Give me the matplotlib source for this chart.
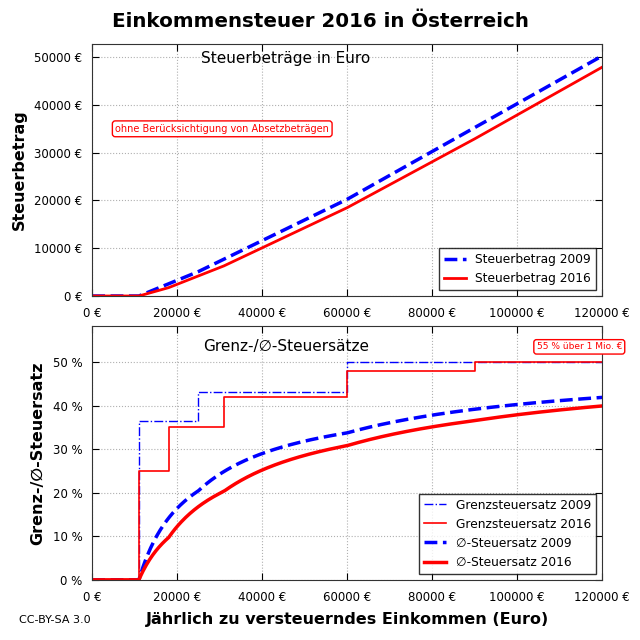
import numpy as np
import matplotlib.pyplot as plt
from matplotlib.ticker import FuncFormatter

plt.rc('font', family='DejaVu Sans', size=8.5)

# tax amount at the bracket limits (Euro)
inc_2009 = [0, 11000, 25000, 60000, 120000]
tax_2009 = [0, 0, 5110, 20235, 50235]
inc_2016 = [0, 11000, 18000, 31000, 60000, 90000, 120000]
tax_2016 = [0, 0, 1750, 6300, 18480, 32880, 47880]

# marginal rates (%) starting at each limit
rate_2009 = [0, 36.5, 43.2143, 50, 50]
rate_2016 = [0, 25, 35, 42, 48, 50, 50]

# average rate = tax / income
x = np.arange(0, 120001, 250)
avg_2009 = np.where(x > 0, np.interp(x, inc_2009, tax_2009) / np.maximum(x, 1) * 100, 0)
avg_2016 = np.where(x > 0, np.interp(x, inc_2016, tax_2016) / np.maximum(x, 1) * 100, 0)

fig = plt.figure(figsize=(6.4, 6.4), dpi=100)
ax1 = fig.add_axes([0.144, 0.5375, 0.797, 0.394])
ax2 = fig.add_axes([0.144, 0.094, 0.797, 0.397])

fig.text(0.5, 0.967, 'Einkommensteuer 2016 in Österreich', ha='center', va='center',
         fontsize=14.3, fontweight='bold')

ax1.plot(inc_2009, tax_2009, 'b--', lw=2.5, label='Steuerbetrag 2009')
ax1.plot(inc_2016, tax_2016, 'r-', lw=2, label='Steuerbetrag 2016')
ax1.set_xlim(0, 120000)
ax1.set_ylim(0, 52750)
ax1.set_ylabel('Steuerbetrag', fontsize=11.5, fontweight='bold', labelpad=5)
ax1.text(0.38, 0.94, 'Steuerbeträge in Euro', transform=ax1.transAxes, ha='center', va='center', fontsize=11)
ax1.text(0.255, 0.663, 'ohne Berücksichtigung von Absetzbeträgen', transform=ax1.transAxes,
         ha='center', va='center', fontsize=7, color='r',
         bbox=dict(boxstyle='round,pad=0.3', fc='white', ec='r'))
ax1.yaxis.set_major_formatter(FuncFormatter(lambda v, p: '%d €' % v))
leg1 = ax1.legend(loc='lower right', fontsize=8.8, fancybox=False, handlelength=1.8)
leg1.get_frame().set_edgecolor('k')

ax2.plot(inc_2009, rate_2009, 'b-.', lw=1, drawstyle='steps-post', label='Grenzsteuersatz 2009')
ax2.plot(inc_2016, rate_2016, 'r-', lw=1.2, drawstyle='steps-post', label='Grenzsteuersatz 2016')
ax2.plot(x, avg_2009, 'b--', lw=2.5, label='∅-Steuersatz 2009')
ax2.plot(x, avg_2016, 'r-', lw=2.5, label='∅-Steuersatz 2016')
ax2.set_xlim(0, 120000)
ax2.set_ylim(0, 58.3)
ax2.set_yticks([0, 10, 20, 30, 40, 50])
ax2.set_ylabel('Grenz-/∅-Steuersatz', fontsize=11.5, fontweight='bold', labelpad=5)
ax2.set_xlabel('Jährlich zu versteuerndes Einkommen (Euro)', fontsize=11.5, fontweight='bold', labelpad=6)
ax2.text(0.38, 0.917, 'Grenz-/∅-Steuersätze', transform=ax2.transAxes, ha='center', va='center', fontsize=11)
ax2.text(0.955, 0.917, '55 % über 1 Mio. €', transform=ax2.transAxes, ha='center', va='center',
         fontsize=6.5, color='r', bbox=dict(boxstyle='round,pad=0.3', fc='white', ec='r'))
ax2.yaxis.set_major_formatter(FuncFormatter(lambda v, p: '%d %%' % v))
leg2 = ax2.legend(loc='lower right', fontsize=8.8, fancybox=False, handlelength=1.8)
leg2.get_frame().set_edgecolor('k')

for ax in (ax1, ax2):
    ax.set_xticks([0, 20000, 40000, 60000, 80000, 100000, 120000])
    ax.xaxis.set_major_formatter(FuncFormatter(lambda v, p: '%d €' % v))
    ax.grid(True, color='#b0b0b0', linestyle=':', linewidth=0.8)
    ax.tick_params(direction='in', top=True, right=True, length=5, labelsize=8.5)
    ax.tick_params(axis='x', pad=8)
    ax.tick_params(axis='y', pad=7)
    for s in ax.spines.values():
        s.set_color('#333333')

fig.text(0.086, 0.031, 'CC-BY-SA 3.0', ha='center', va='center', fontsize=8)

plt.savefig('out.png', dpi=100)
